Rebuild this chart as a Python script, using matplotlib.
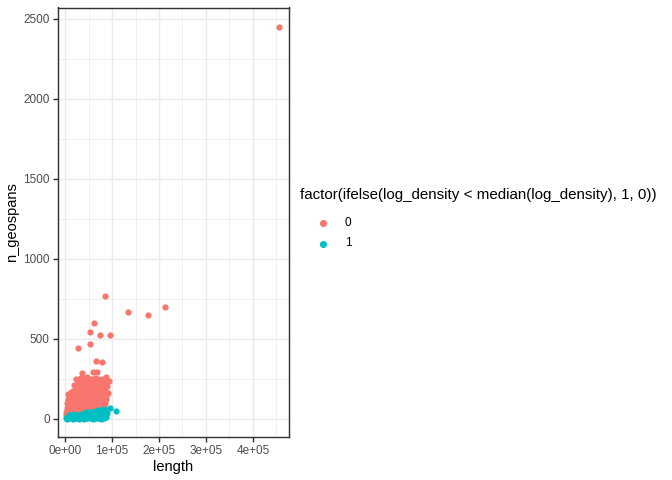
import numpy as np
import matplotlib
matplotlib.use('Agg')
import matplotlib.pyplot as plt
from matplotlib.lines import Line2D
from matplotlib.ticker import MultipleLocator, FuncFormatter

plt.rcParams['font.family'] = ['Liberation Sans', 'DejaVu Sans']

# group 0 (log_density >= median)
red_x = [455000, 85100, 133400, 176000, 213400, 61700, 53900, 75100, 95000, 27000,
         52500, 66000, 79400, 36200, 58900, 68700, 87900, 92900, 29100, 84400, 83700,
         24000, 33000, 41000, 47000, 56000, 63000, 70000, 78000, 85000,
         30000, 38000, 52000, 60000, 74000, 81000,
         27000, 35000, 43000, 50000, 58000, 66000, 74000, 82000, 90000,
         19000, 27000, 35000, 43000, 50000, 58000, 66000, 74000, 82000,
         23000, 31000, 39000, 46000, 54000, 62000, 70000, 78000, 86000,
         18000, 26000, 34000, 42000, 50000, 58000, 66000, 74000, 82000,
         7000, 13000, 20000, 28000, 36000, 44000, 52000, 60000, 68000, 76000, 84000, 91000,
         9000, 16000, 24000, 32000, 40000, 48000, 56000, 64000, 72000, 80000, 88000,
         6000, 12000, 19000, 26000, 34000, 42000, 50000, 58000, 66000, 74000, 82000, 88000,
         8000, 15000, 22000, 30000, 38000, 46000, 54000, 62000, 70000, 78000, 85000,
         5000, 10000, 17000, 24000, 32000, 40000, 48000, 56000, 64000, 72000, 80000, 86000,
         7000, 13000, 20000, 28000, 36000, 44000, 52000, 60000, 68000, 76000, 83000,
         4000, 9000, 15000, 22000, 30000, 38000, 46000, 54000, 62000, 70000, 78000, 84000,
         6000, 12000, 18000, 26000, 34000, 42000, 50000, 58000, 66000, 74000, 80000,
         3000, 8000, 14000, 21000, 29000, 37000, 45000, 53000, 61000, 69000, 77000,
         5000, 10000, 16000, 22000, 29000, 36000, 43000, 50000, 57000,
         3000, 7000, 12000, 18000, 25000, 33000]
red_y = [2447, 767, 665, 649, 697, 595, 541, 522, 522, 441,
         466, 357, 353, 286, 291, 289, 261, 234, 245, 172, 116,
         248, 256, 251, 260, 246, 255, 250, 244, 238,
         232, 238, 234, 230, 237, 228,
         218, 230, 222, 228, 215, 226, 219, 210, 205,
         208, 202, 206, 210, 203, 207, 201, 205, 199,
         190, 198, 186, 194, 188, 196, 185, 192, 180,
         172, 178, 174, 170, 177, 173, 171, 176, 168,
         155, 165, 158, 168, 160, 166, 155, 163, 157, 165, 150, 158,
         146, 142, 148, 144, 147, 141, 145, 143, 148, 140, 138,
         125, 135, 128, 138, 130, 136, 125, 133, 128, 136, 125, 120,
         116, 112, 118, 114, 117, 111, 115, 113, 118, 110, 112,
         95, 105, 98, 108, 100, 106, 95, 104, 98, 106, 96, 100,
         86, 82, 88, 84, 87, 81, 85, 83, 88, 80, 84,
         68, 75, 70, 78, 72, 76, 66, 74, 70, 76, 64, 70,
         58, 55, 60, 57, 59, 54, 58, 56, 60, 53, 55,
         42, 48, 44, 50, 46, 52, 44, 48, 42, 50, 40,
         30, 28, 32, 29, 31, 27, 30, 28, 26,
         20, 15, 25, 10, 22, 18]

# group 1 (log_density < median)
teal_x = [3000, 6000, 9000, 12000, 15000, 18000, 21000, 24000, 27000, 30000,
          33000, 36000, 39000, 42000, 45000, 48000, 51000, 54000, 57000, 60000,
          63000, 66000, 69000, 72000, 75000, 78000, 81000, 84000, 86500, 88000,
          90000, 95000, 108500, 20000, 40000, 55000, 65000, 75000, 70000, 80000,
          5000, 11000, 17000, 23000, 29000, 35000, 41000, 47000, 53000, 59000,
          65000, 71000, 77000, 83000,
          8000, 14000, 26000, 32000, 38000, 44000, 50000, 56000, 62000, 68000,
          74000, 80000, 86000,
          45000, 52000, 60000, 67000, 78000, 85000]
teal_y = [5, 12, 3, 20, 8, 15, 2, 25, 10, 18,
          5, 28, 12, 20, 4, 30, 14, 22, 6, 35,
          15, 26, 8, 40, 18, 30, 45, 22, 9, 55,
          35, 66, 47, 30, 35, 40, 45, 50, 55, 60,
          0, 1, 0, 2, 0, 1, 0, 2, 1, 0,
          2, 1, 0, 1,
          20, 22, 19, 21, 23, 18, 22, 20, 24, 21,
          23, 25, 20,
          38, 42, 40, 44, 41, 39]

red = '#F8766D'
teal = '#00BFC4'
legend_title = 'factor(ifelse(log_density < median(log_density), 1, 0))'
legend_labels = ['0', '1']

fig = plt.figure(figsize=(7, 5), dpi=96)
ax = fig.add_axes([57.5 / 672, 1 - 437 / 480, (289 - 57.5) / 672, (437 - 7.5) / 480])

ax.scatter(red_x, red_y, s=22, color=red, linewidths=0, zorder=3)
ax.scatter(teal_x, teal_y, s=22, color=teal, linewidths=0, zorder=3)

ax.set_xlim(-15960, 476600)
ax.set_ylim(-115.6, 2568.75)

ax.xaxis.set_major_locator(MultipleLocator(100000))
ax.xaxis.set_minor_locator(MultipleLocator(50000))
ax.yaxis.set_major_locator(MultipleLocator(500))
ax.yaxis.set_minor_locator(MultipleLocator(250))
ax.xaxis.set_major_formatter(FuncFormatter(lambda v, p: '0e+00' if v == 0 else '%de+05' % int(round(v / 1e5))))

ax.grid(which='major', color='#EBEBEB', linewidth=1.07)
ax.grid(which='minor', color='#EBEBEB', linewidth=0.53)
ax.set_axisbelow(True)

for sp in ax.spines.values():
    sp.set_color('#333333')
    sp.set_linewidth(1.07)

ax.tick_params(which='major', length=3.7, width=1.07, color='#333333',
               labelsize=8.8, labelcolor='#4D4D4D', pad=2.2)
ax.tick_params(which='minor', length=0)

ax.set_xlabel('length', fontsize=11, labelpad=2.5)
ax.set_ylabel('n_geospans', fontsize=11, labelpad=3)

# legend drawn by hand to match ggplot spacing
fig.text(300 / 672, 1 - 195 / 480, legend_title, fontsize=11.3, ha='left', va='center')
key_y = [222.7, 243.5]
for lab, col, yy in zip(legend_labels, [red, teal], key_y):
    fig.add_artist(Line2D([323 / 672], [1 - yy / 480], marker='o', linestyle='', color=col,
                          markersize=5.3, markeredgewidth=0, transform=fig.transFigure))
    fig.text(345 / 672, 1 - yy / 480, lab, fontsize=8.8, ha='left', va='center')

fig.savefig('out.png', dpi=96)
